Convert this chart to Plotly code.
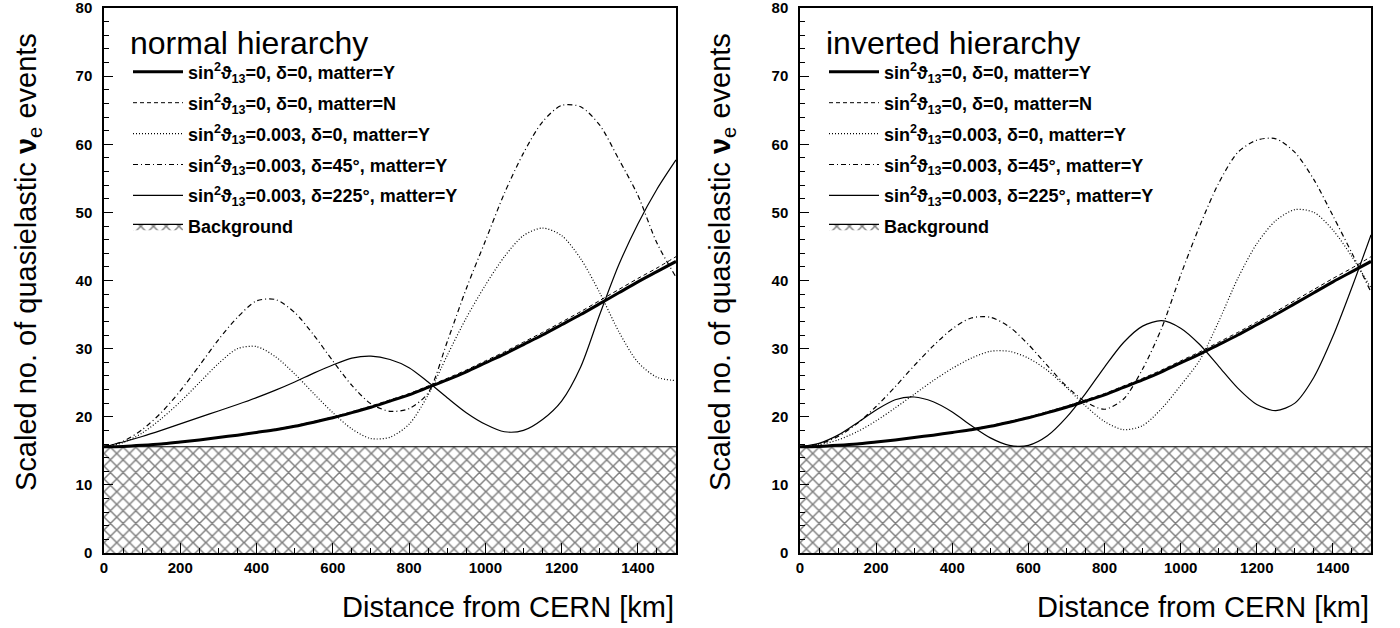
import plotly.graph_objects as go

# ---------------- data ----------------
distance_km = [0, 50, 100, 150, 200, 250, 300, 350, 400, 450, 500, 550, 600, 650, 700, 750,
               800, 850, 900, 950, 1000, 1050, 1100, 1150, 1200, 1250, 1300, 1350, 1400, 1450, 1500]

bg_x = [0, 1500]
bg_level = [15.6, 15.6]

# normal hierarchy
nh_s0_matterY = [15.6, 15.65, 15.8, 16.0, 16.3, 16.6, 16.95, 17.3, 17.7, 18.1, 18.6, 19.2, 19.85, 20.6, 21.4, 22.3,
                 23.2, 24.3, 25.4, 26.6, 27.9, 29.2, 30.6, 32.0, 33.5, 35.0, 36.6, 38.2, 39.8, 41.3, 42.8]
nh_s0_matterN = [15.6, 15.65, 15.8, 16.0, 16.3, 16.6, 16.97, 17.35, 17.75, 18.17, 18.7, 19.3, 19.97, 20.74, 21.56, 22.48,
                 23.4, 24.52, 25.64, 26.86, 28.2, 29.52, 30.95, 32.38, 33.9, 35.43, 37.06, 38.68, 40.3, 41.83, 43.5]
nh_s003_d0 = [15.6, 16.2, 17.6, 19.7, 22.2, 25.0, 27.8, 30.0, 30.3, 28.8, 26.3, 23.4, 20.6, 18.2, 16.8, 17.0,
              18.9, 23.2, 29.0, 34.5, 39.3, 43.5, 46.6, 47.7, 46.6, 43.2, 38.2, 32.5, 28.0, 25.8, 25.3]
nh_s003_d45 = [15.6, 16.4, 18.1, 20.6, 23.8, 27.5, 31.3, 34.6, 37.0, 37.2, 35.3, 32.0, 28.2, 24.6, 21.9, 20.8,
               21.2, 23.5, 31.0, 38.8, 45.8, 52.8, 58.7, 63.3, 65.7, 65.5, 62.8, 57.8, 52.5, 45.5, 40.5]
nh_s003_d225 = [15.6, 16.3, 17.1, 18.0, 18.95, 19.9, 20.85, 21.8, 22.8, 23.9, 25.1, 26.4, 27.6, 28.6, 28.9, 28.4,
                27.2, 25.1, 22.8, 20.6, 18.9, 17.8, 18.0, 19.6, 22.3, 27.3, 35.0, 42.3, 48.3, 53.4, 57.7]

# inverted hierarchy
ih_s0_matterY = [15.6, 15.65, 15.8, 16.0, 16.3, 16.6, 16.95, 17.3, 17.7, 18.1, 18.6, 19.2, 19.85, 20.6, 21.4, 22.3,
                 23.2, 24.3, 25.4, 26.6, 27.9, 29.2, 30.6, 32.0, 33.5, 35.0, 36.6, 38.2, 39.8, 41.3, 42.8]
ih_s0_matterN = [15.6, 15.65, 15.8, 16.0, 16.3, 16.6, 16.97, 17.35, 17.75, 18.17, 18.7, 19.3, 19.97, 20.74, 21.56, 22.48,
                 23.4, 24.52, 25.64, 26.86, 28.2, 29.52, 30.95, 32.38, 33.9, 35.43, 37.06, 38.68, 40.3, 41.83, 43.5]
ih_s003_d0 = [15.6, 15.9, 16.6, 17.8, 19.4, 21.3, 23.3, 25.3, 27.1, 28.6, 29.6, 29.6, 28.6, 26.8, 24.3, 21.6,
              19.3, 18.1, 18.7, 21.2, 24.6, 28.3, 34.0, 40.3, 45.4, 48.8, 50.4, 50.0, 47.4, 43.5, 38.9]
ih_s003_d45 = [15.6, 16.0, 17.1, 19.0, 21.5, 24.4, 27.5, 30.4, 32.9, 34.5, 34.6, 33.2, 30.6, 27.5, 24.5, 22.2,
               21.1, 22.6, 27.0, 33.0, 40.8, 48.0, 54.3, 58.8, 60.6, 60.8, 58.8, 54.8, 49.5, 44.0, 38.3]
ih_s003_d225 = [15.6, 16.1, 17.3, 19.1, 21.0, 22.5, 22.9, 22.2, 20.7, 18.7, 16.9, 15.8, 15.8, 17.2, 19.9, 23.4,
                27.3, 30.9, 33.3, 34.1, 33.0, 30.6, 27.4, 24.2, 21.8, 20.9, 22.0, 25.8, 31.8, 39.0, 46.7]

labels = [
    "sin<sup>2</sup>ϑ<sub>13</sub>=0, δ=0, matter=Y",
    "sin<sup>2</sup>ϑ<sub>13</sub>=0, δ=0, matter=N",
    "sin<sup>2</sup>ϑ<sub>13</sub>=0.003, δ=0, matter=Y",
    "sin<sup>2</sup>ϑ<sub>13</sub>=0.003, δ=45°, matter=Y",
    "sin<sup>2</sup>ϑ<sub>13</sub>=0.003, δ=225°, matter=Y",
    "Background",
]
panel_titles = ["normal hierarchy", "inverted hierarchy"]
x_title = "Distance from CERN [km]"
y_title = "Scaled no. of quasielastic <b>ν</b><sub>e</sub> events"

# ---------------- styles ----------------
styles = [
    dict(width=3.0, dash="solid"),
    dict(width=1.0, dash="4px,3px"),
    dict(width=1.2, dash="1px,2px"),
    dict(width=1.2, dash="5px,3px,1px,3px"),
    dict(width=1.2, dash="solid"),
]

fig = go.Figure()

panels = [
    ("x", "y", "legend", [nh_s0_matterY, nh_s0_matterN, nh_s003_d0, nh_s003_d45, nh_s003_d225]),
    ("x2", "y2", "legend2", [ih_s0_matterY, ih_s0_matterN, ih_s003_d0, ih_s003_d45, ih_s003_d225]),
]

for xa, ya, leg, series in panels:
    # background (hatched)
    fig.add_trace(go.Scatter(
        x=bg_x, y=bg_level, xaxis=xa, yaxis=ya, mode="lines",
        line=dict(color="black", width=1.2), fill="tozeroy",
        fillcolor="white",
        fillpattern=dict(shape="x", size=9, solidity=0.3, fgcolor="black", bgcolor="white"),
        name=labels[5], legend=leg, legendgroup=leg + "g6", legendrank=6,
        hoverinfo="skip",
    ))
    for i, s in enumerate(series):
        fig.add_trace(go.Scatter(
            x=distance_km, y=s, xaxis=xa, yaxis=ya, mode="lines",
            line=dict(color="black", width=styles[i]["width"], dash=styles[i]["dash"], shape="spline", smoothing=0.8),
            name=labels[i], legend=leg, legendgroup=leg + "g" + str(i + 1), legendrank=i + 1,
        ))

tickfont = dict(family="Liberation Sans", size=15, color="black", weight="bold")
axis_common = dict(
    showline=True, linecolor="black", linewidth=1.5, mirror=True,
    ticks="inside", tickcolor="black", showgrid=False, zeroline=False,
    tickfont=tickfont, ticklabeloverflow="allow",
    automargin=False,
)
xaxis_common = dict(axis_common, range=[0, 1500], dtick=200, tick0=0, ticklen=10, ticklabelstandoff=0,
                    minor=dict(dtick=50, ticks="inside", ticklen=5, tickcolor="black"))
yaxis_common = dict(axis_common, range=[0, 80.0001], dtick=10, tick0=0, ticklen=9, ticklabelstandoff=7,
                    minor=dict(dtick=2, ticks="inside", ticklen=5, tickcolor="black"))

y_dom = [1 - 553 / 628, 1 - 8 / 628]

fig.update_layout(
    width=1400, height=628, autosize=False,
    margin=dict(l=0, r=0, t=0, b=0, autoexpand=False),
    paper_bgcolor="white", plot_bgcolor="white",
    xaxis=dict(xaxis_common, domain=[104 / 1400, 676 / 1400], anchor="y"),
    yaxis=dict(yaxis_common, domain=y_dom, anchor="x"),
    xaxis2=dict(xaxis_common, domain=[800 / 1400, 1371 / 1400], anchor="y2"),
    yaxis2=dict(yaxis_common, domain=y_dom, anchor="x2"),
    font=dict(family="Liberation Sans", color="black"),
    showlegend=True,
)

legend_common = dict(
    xanchor="left", yanchor="top", y=1 - 12 / 628,
    bgcolor="rgba(0,0,0,0)", borderwidth=0,
    font=dict(family="Liberation Sans", size=18, color="black", weight="bold"),
    itemwidth=50, tracegroupgap=4.5, traceorder="grouped",
    itemclick=False, itemdoubleclick=False,
)
fig.update_layout(
    legend=dict(legend_common, x=128 / 1400,
                title=dict(text=panel_titles[0], side="top",
                           font=dict(family="Liberation Sans", size=32, color="black", weight="normal"))),
    legend2=dict(legend_common, x=824 / 1400,
                 title=dict(text=panel_titles[1], side="top",
                            font=dict(family="Liberation Sans", size=32, color="black", weight="normal"))),
)

annotations = []
for xc, xr in [(28 / 1400, 676 / 1400), (722 / 1400, 1371 / 1400)]:
    annotations.append(dict(
        text=y_title, xref="paper", yref="paper", x=xc, y=1 - 262 / 628,
        xanchor="center", yanchor="middle", textangle=-90, showarrow=False,
        font=dict(family="Liberation Sans", size=29, color="black"),
    ))
    annotations.append(dict(
        text=x_title, xref="paper", yref="paper", x=xr, y=1 - 607 / 628,
        xanchor="right", yanchor="middle", showarrow=False,
        font=dict(family="Liberation Sans", size=29, color="black"),
    ))
fig.update_layout(annotations=annotations)

fig.write_html("out.html")
